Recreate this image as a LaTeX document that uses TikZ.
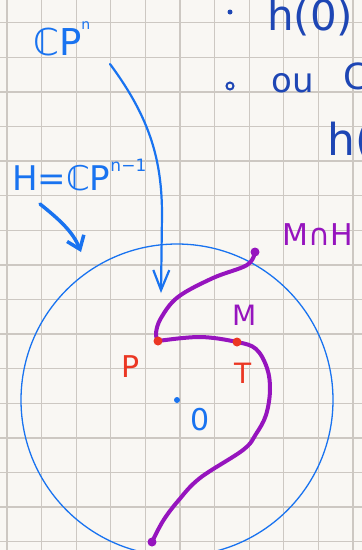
\documentclass[tikz,border=0pt]{standalone}
\usepackage{fontspec}
\setmainfont{DejaVu Sans}
\usetikzlibrary{arrows.meta}
\definecolor{paper}{RGB}{249,247,243}
\definecolor{gridc}{RGB}{205,200,194}
\definecolor{penblue}{RGB}{25,115,240}
\definecolor{inkblue}{RGB}{30,70,180}
\definecolor{penpurple}{RGB}{150,20,190}
\definecolor{penred}{RGB}{235,55,35}
\newcommand{\hup}[2]{\raisebox{#1}{\fontsize{#2}{#2}\selectfont}}
\begin{document}
\begin{tikzpicture}[
    x=1pt, y=-1pt,
    gridline/.style={gridc, line width=1.3pt},
    pen/.style={penblue, line width=2.2pt, line cap=round, line join=round},
    curve/.style={penpurple, line width=4pt, line cap=round, line join=round},
    lbl/.style={inner sep=0pt, anchor=base west},
    fs/.style={font=\fontsize{#1}{#1}\selectfont}
]

% ---------- page ----------
\useasboundingbox[fill=paper] (0,0) rectangle (362,550);
\clip (0,0) rectangle (362,550);

% ---------- grid ----------
\foreach \k in {0,...,10}
  \draw[gridline] (7+34.6*\k,0) -- (7+34.6*\k,550);
\foreach \k in {0,...,15}
  \draw[gridline] (0,22.7+34.6*\k) -- (362,22.7+34.6*\k);

% ---------- notes, top right ----------
\fill[inkblue] (230,12) circle (2.5);
\draw[inkblue, line width=2pt] (230,86) circle (3.5);
\node[lbl, fs=42, inkblue] (hzero) at (267,30) {h(0)};
\node[lbl, fs=34, inkblue] (ou) at (271,92) {ou};
\node[lbl, fs=36, inkblue] (cc) at (343,89) {C};
\node[lbl, fs=44, inkblue] (hpar) at (327,155) {h(};

% ---------- labels ----------
\node[lbl, fs=37, penblue] (cpn) at (33,55) {ℂP\raisebox{26pt}{\fontsize{14}{14}\selectfont n}};
\node[lbl, fs=34, penblue] (hyp) at (12,190) {H=ℂP\raisebox{19pt}{\fontsize{17}{17}\selectfont n−1}};
\node[lbl, fs=30, penpurple] (mh) at (282,245) {M∩H};
\node[lbl, fs=28, penpurple] (m) at (232,325) {M};
\node[lbl, fs=30, penred] (plbl) at (121,377) {P};
\node[lbl, fs=28, penred] (tlbl) at (234,383) {T};
\node[lbl, fs=30, penblue] (olbl) at (190,430) {0};

% ---------- ball ----------
\coordinate (O) at (177,400);
\draw[penblue, line width=1.3pt] (O) circle (156);

% ---------- points ----------
\coordinate (top) at (255,252);
\coordinate (P) at (158,341);
\coordinate (T) at (237,342);
\coordinate (bot) at (152,542);

% ---------- the curve M ----------
\draw[curve] plot[smooth, tension=0.6] coordinates
  {(top) (247,265) (213,278) (178,297) (161,318) (156,333) (P)};
\draw[curve] plot[smooth, tension=0.6] coordinates
  {(P) (200,337) (T) (256,349) (267,368) (270,390) (266,415) (256,434)
   (243,450) (200,478) (178,501) (163,521) (bot)};

% ---------- dots ----------
\fill[penpurple] (top) circle (4.5);
\fill[penpurple] (bot) circle (4.5);
\fill[penred] (P) circle (4.5);
\fill[penred] (T) circle (4.5);
\fill[penblue] (O) circle (3);

% ---------- arrows ----------
\coordinate (a1) at (110,64);
\coordinate (a2) at (161,293);
\draw[pen, -{Straight Barb[length=20pt, width=16pt]}]
  (a1) .. controls (150,118) and (162,160) .. (162,215) -- (a2);
\coordinate (b1) at (40,204);
\coordinate (b2) at (81,252);
\draw[pen, line width=3.5pt, -{Straight Barb[length=12pt, width=18pt]}]
  (b1) .. controls (60,220) and (73,232) .. (b2);

\end{tikzpicture}
\end{document}
